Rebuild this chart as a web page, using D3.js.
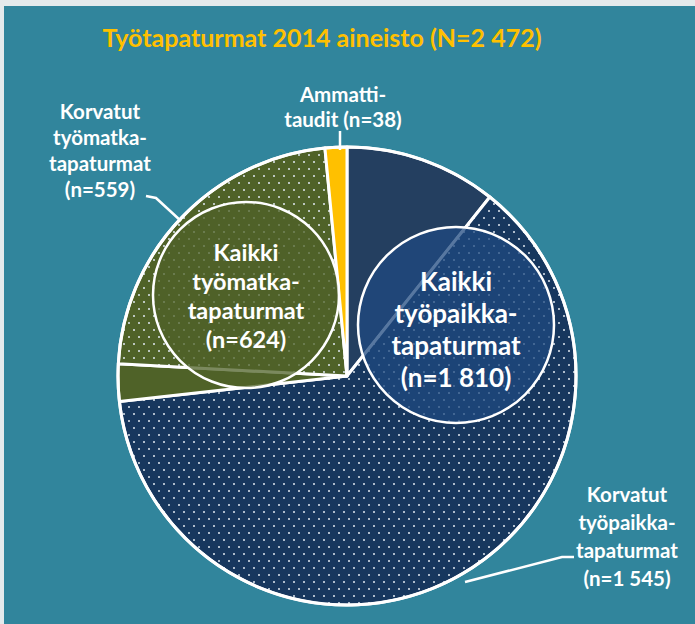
<!DOCTYPE html>
<html>
<head>
<meta charset="utf-8">
<script src="https://cdn.jsdelivr.net/npm/d3@7"></script>
<style>
  html, body { margin: 0; padding: 0; background: #e4eaec; }
  svg { display: block; }
  text { font-family: Lato, "Open Sans", sans-serif; font-weight: bold; }
</style>
</head>
<body>
<div id="chart"></div>
<script>
"use strict"

const WIDTH = 695;
const HEIGHT = 624;

// slices, clockwise from 12 o'clock
const slices = ["Muut työpaikkatapaturmat", "Korvatut työpaikkatapaturmat", "Muut työmatkatapaturmat", "Korvatut työmatkatapaturmat", "Ammattitaudit"];
const values = [265, 1545, 65, 559, 38];
const fills = ["#243f60", "url(#dotsNavy)", "#4f6228", "url(#dotsOlive)", "#ffc000"];

const title = "Työtapaturmat 2014 aineisto (N=2 472)";
const groupLabels = [
	["Kaikki", "työpaikka-", "tapaturmat", "(n=1 810)"],
	["Kaikki", "työmatka-", "tapaturmat", "(n=624)"]
];
const sliceLabels = [
	["Ammatti-", "taudit (n=38)"],
	["Korvatut", "työmatka-", "tapaturmat", "(n=559)"],
	["Korvatut", "työpaikka-", "tapaturmat", "(n=1 545)"]
];

const CX = 347, CY = 376, R = 229;

var svg = d3.select('#chart')
	.append('svg')
	.attr('width', WIDTH)
	.attr('height', HEIGHT);

svg.append('rect')
	.attr('x', 4)
	.attr('y', 6)
	.attr('width', WIDTH - 4)
	.attr('height', HEIGHT - 6)
	.attr('fill', '#31859c');

// dotted fills
var defs = svg.append('defs');
function dots(id, bg) {
	var p = defs.append('pattern')
		.attr('id', id)
		.attr('patternUnits', 'userSpaceOnUse')
		.attr('width', 10)
		.attr('height', 14);
	p.append('rect').attr('width', 10).attr('height', 14).attr('fill', bg);
	p.append('circle').attr('cx', 2).attr('cy', 3).attr('r', 1).attr('fill', '#dfe8f0');
	p.append('circle').attr('cx', 7).attr('cy', 10).attr('r', 1).attr('fill', '#dfe8f0');
}
dots('dotsNavy', '#17375e');
dots('dotsOlive', '#4f6228');

svg.append('text')
	.attr('x', 322)
	.attr('y', 47)
	.attr('text-anchor', 'middle')
	.attr('fill', '#ffc000')
	.style('font-size', '25px')
	.text(title);

var pie = d3.pie()
	.value(function(d) { return d; })
	.sort(null);

var arc = d3.arc()
	.innerRadius(0)
	.outerRadius(R);

var g = svg.append('g')
	.attr('transform', 'translate(' + CX + ',' + CY + ')');

g.selectAll('path')
	.data(pie(values))
	.enter()
	.append('path')
	.attr('d', arc)
	.attr('fill', function(d, i) { return fills[i]; })
	.attr('stroke', '#ffffff')
	.attr('stroke-width', 3)
	.attr('stroke-linejoin', 'round');

g.append('circle')
	.attr('r', R)
	.attr('fill', 'none')
	.attr('stroke', '#ffffff')
	.attr('stroke-width', 3);

// group circles
var groupCircles = [
	{ x: 456, y: 325, r: 98, fill: '#1f4a80', size: 26, step: 32, first: 291 },
	{ x: 246, y: 295, r: 93, fill: '#4f6228', size: 23.5, step: 29, first: 261 }
];

groupCircles.forEach(function(c, i) {
	svg.append('circle')
		.attr('cx', c.x)
		.attr('cy', c.y)
		.attr('r', c.r)
		.attr('fill', c.fill)
		.attr('fill-opacity', 0.75)
		.attr('stroke', '#ffffff')
		.attr('stroke-width', 2.5);

	svg.append('text')
		.attr('text-anchor', 'middle')
		.attr('fill', '#ffffff')
		.style('font-size', c.size + 'px')
		.selectAll('tspan')
		.data(groupLabels[i])
		.enter()
		.append('tspan')
		.attr('x', c.x)
		.attr('y', function(d, k) { return c.first + k * c.step; })
		.text(function(d) { return d; });
});

// outside labels
var outside = [
	{ x: 343, y: 102, step: 25 },
	{ x: 100, y: 119, step: 26 },
	{ x: 627, y: 502, step: 28 }
];

outside.forEach(function(o, i) {
	svg.append('text')
		.attr('text-anchor', 'middle')
		.attr('fill', '#ffffff')
		.style('font-size', '20.5px')
		.selectAll('tspan')
		.data(sliceLabels[i])
		.enter()
		.append('tspan')
		.attr('x', o.x)
		.attr('y', function(d, k) { return o.y + k * o.step; })
		.text(function(d) { return d; });
});

// leader lines
var leaders = [
	[[340, 131], [340, 150]],
	[[146, 196], [156, 198], [181, 221]],
	[[465, 582], [562, 557], [574, 557]]
];

svg.selectAll('.leader')
	.data(leaders)
	.enter()
	.append('path')
	.attr('class', 'leader')
	.attr('d', d3.line())
	.attr('fill', 'none')
	.attr('stroke', '#ffffff')
	.attr('stroke-width', 2.5);
</script>
</body>
</html>
